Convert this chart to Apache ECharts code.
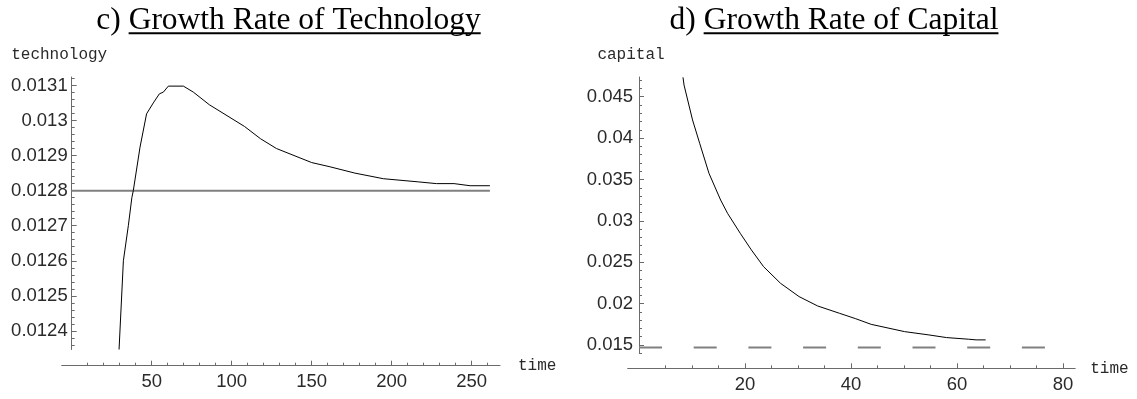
<!DOCTYPE html>
<html>
<head>
<meta charset="utf-8">
<script src="https://cdn.jsdelivr.net/npm/echarts@6/dist/echarts.min.js"></script>
<style>
  html, body { margin: 0; padding: 0; background: #fff; }
  #chart { width: 1137px; height: 399px; }
</style>
</head>
<body>
<div id="chart"></div>
<script>
// ---- c) growth rate of technology ----
const techTime = [29.6, 32.3, 35.4, 37.6, 38.5, 42.7, 46.8, 51.0, 54.8, 57.3, 60.4, 69.8, 76, 86, 108, 118, 128, 150, 161.4, 177, 194.8, 216.6, 228, 239, 249, 261.4];
const techRate = [0.012347, 0.0126, 0.0127, 0.01278, 0.0128, 0.012924, 0.013019, 0.01305, 0.013076, 0.013081, 0.013098, 0.013098, 0.013081, 0.013045, 0.012983, 0.012948, 0.01292, 0.01288, 0.012868, 0.01285, 0.012834, 0.012825, 0.01282, 0.01282, 0.012814, 0.012814];
const techSteady = 0.0128;
const techSteadyTime = [0, 261.4];
const techYTicks = [0.0124, 0.0125, 0.0126, 0.0127, 0.0128, 0.0129, 0.013, 0.0131];
const techXTicks = [50, 100, 150, 200, 250];

// ---- d) growth rate of capital ----
const capTime = [8.3, 8.5, 10.1, 11.45, 13.2, 15.4, 16.7, 19.1, 21.2, 23.5, 26.7, 30.2, 33.7, 37.8, 40.8, 43.8, 50.1, 54.7, 58.0, 62.2, 63.6, 65.4];
const capRate = [0.04734, 0.0464, 0.04219, 0.03937, 0.03575, 0.03252, 0.03092, 0.0285, 0.02649, 0.02447, 0.02246, 0.02085, 0.01972, 0.01884, 0.0182, 0.0175, 0.01662, 0.01622, 0.0159, 0.0157, 0.01562, 0.01562];
const capSteady = 0.0147;
const capSteadyTime = [0, 77];
const capYTicks = [0.015, 0.02, 0.025, 0.03, 0.035, 0.04, 0.045];
const capXTicks = [20, 40, 60, 80];

// minor tick positions between the labelled ticks
function minorTicks(majors, step, lo, hi) {
  const out = [];
  const n = Math.round((hi - lo) / step);
  for (let i = 0; i <= n; i++) {
    const v = lo + i * step;
    if (!majors.some(m => Math.abs(m - v) < step * 0.25)) out.push(v);
  }
  return out;
}
const techYMinor = minorTicks(techYTicks, 0.00002, 0.01236, 0.01312);
const techXMinor = minorTicks(techXTicks.concat([0]), 10, 0, 260);
const capYMinor = minorTicks(capYTicks, 0.001, 0.014, 0.047);
const capXMinor = minorTicks(capXTicks.concat([0]), 5, 0, 80);

const axisGray = '#6a6a6a';
const labelColor = '#2a2a2a';
const tickFont = 'Liberation Sans';
const tickSize = 18.5;
const nameStyle = { fontFamily: 'Liberation Mono', fontSize: 16, color: labelColor };

function zip(xs, ys) { return xs.map((x, i) => [x, ys[i]]); }

function majorX(grid, min, max, ticks, gap) {
  return {
    type: 'value', gridIndex: grid, min: min, max: max, position: 'bottom',
    axisLine: { show: true, onZero: false, lineStyle: { color: axisGray, width: 1 } },
    axisTick: { show: true, inside: true, length: 5, customValues: ticks, lineStyle: { color: axisGray } },
    axisLabel: { show: true, customValues: ticks, margin: 7, color: labelColor, fontFamily: tickFont, fontSize: tickSize },
    splitLine: { show: false },
    name: 'time', nameLocation: 'end', nameGap: gap, nameTextStyle: nameStyle
  };
}
function minorX(grid, min, max, ticks) {
  return {
    type: 'value', gridIndex: grid, min: min, max: max, position: 'bottom',
    axisLine: { show: false, onZero: false },
    axisTick: { show: true, inside: true, length: 3, customValues: ticks, lineStyle: { color: axisGray } },
    axisLabel: { show: false }, splitLine: { show: false }
  };
}
function majorY(grid, min, max, ticks, name, pad, margin) {
  return {
    type: 'value', gridIndex: grid, min: min, max: max, position: 'left',
    axisLine: { show: true, onZero: false, lineStyle: { color: axisGray, width: 1 } },
    axisTick: { show: true, inside: true, length: 5, customValues: ticks, lineStyle: { color: axisGray } },
    axisLabel: { show: true, customValues: ticks, margin: margin, color: labelColor, fontFamily: tickFont, fontSize: tickSize },
    splitLine: { show: false },
    name: name, nameLocation: 'end', nameGap: 14,
    nameTextStyle: Object.assign({ align: 'center', padding: pad }, nameStyle)
  };
}
function minorY(grid, min, max, ticks) {
  return {
    type: 'value', gridIndex: grid, min: min, max: max, position: 'left',
    axisLine: { show: false, onZero: false },
    axisTick: { show: true, inside: true, length: 3, customValues: ticks, lineStyle: { color: axisGray } },
    axisLabel: { show: false }, splitLine: { show: false }
  };
}
function hiddenAxis(grid, min, max) {
  return { type: 'value', gridIndex: grid, min: min, max: max, show: false, splitLine: { show: false } };
}

// panel titles with the subject underlined
const titleFont = '31.5px "Liberation Serif"';
const measureCtx = document.createElement('canvas').getContext('2d');
measureCtx.font = titleFont;
function titleParts(prefix, body, cx) {
  const wp = measureCtx.measureText(prefix).width;
  const wb = measureCtx.measureText(body).width;
  const x0 = cx - (wp + wb) / 2;
  return [
    { type: 'text', x: x0, y: 20.8, style: { text: prefix + body, font: titleFont, fill: '#000', align: 'left', verticalAlign: 'middle', textAlign: 'left', textVerticalAlign: 'middle' } },
    { type: 'line', shape: { x1: x0 + wp, y1: 33.2, x2: x0 + wp + wb, y2: 33.2 }, style: { stroke: '#000', lineWidth: 2 } }
  ];
}

const chart = echarts.init(document.getElementById('chart'), null, { renderer: 'canvas' });
chart.setOption({
  animation: false,
  backgroundColor: '#fff',
  grid: [
    { left: 71.7, top: 77, width: 428.3, height: 272.5 },
    { left: 61.7, top: 300, width: 438.3, height: 65.7 },
    { left: 639, top: 77, width: 436.2, height: 276.3 },
    { left: 627.7, top: 300, width: 447.5, height: 68.3 }
  ],
  xAxis: [
    hiddenAxis(0, 0, 267.7),
    majorX(1, -6.25, 267.7, techXTicks, 18),
    minorX(1, -6.25, 267.7, techXMinor),
    hiddenAxis(2, 0, 82.3),
    majorX(3, -2.13, 82.3, capXTicks, 15),
    minorX(3, -2.13, 82.3, capXMinor)
  ],
  yAxis: [
    majorY(0, 0.012347, 0.013124, techYTicks, 'technology', [0, 25, 0, 0], 4),
    minorY(0, 0.012347, 0.013124, techYMinor),
    hiddenAxis(1, 0, 1),
    majorY(2, 0.014, 0.04738, capYTicks, 'capital', [0, 16, 0, 0], 6),
    minorY(2, 0.014, 0.04738, capYMinor),
    hiddenAxis(3, 0, 1)
  ],
  graphic: titleParts('c) ', 'Growth Rate of Technology', 288.5)
    .concat(titleParts('d) ', 'Growth Rate of Capital', 834)),
  series: [
    {
      type: 'line', xAxisIndex: 0, yAxisIndex: 0, showSymbol: false, silent: true,
      data: techSteadyTime.map(t => [t, techSteady]),
      lineStyle: { color: '#808080', width: 2 }
    },
    {
      type: 'line', xAxisIndex: 0, yAxisIndex: 0, showSymbol: false, silent: true,
      data: zip(techTime, techRate),
      lineStyle: { color: '#000', width: 1 }
    },
    {
      type: 'line', xAxisIndex: 3, yAxisIndex: 3, showSymbol: false, silent: true,
      data: capSteadyTime.map(t => [t, capSteady]),
      lineStyle: { color: '#808080', width: 2, type: [23, 31.7] }
    },
    {
      type: 'line', xAxisIndex: 3, yAxisIndex: 3, showSymbol: false, silent: true,
      data: zip(capTime, capRate),
      lineStyle: { color: '#000', width: 1 }
    }
  ]
});
</script>
</body>
</html>
